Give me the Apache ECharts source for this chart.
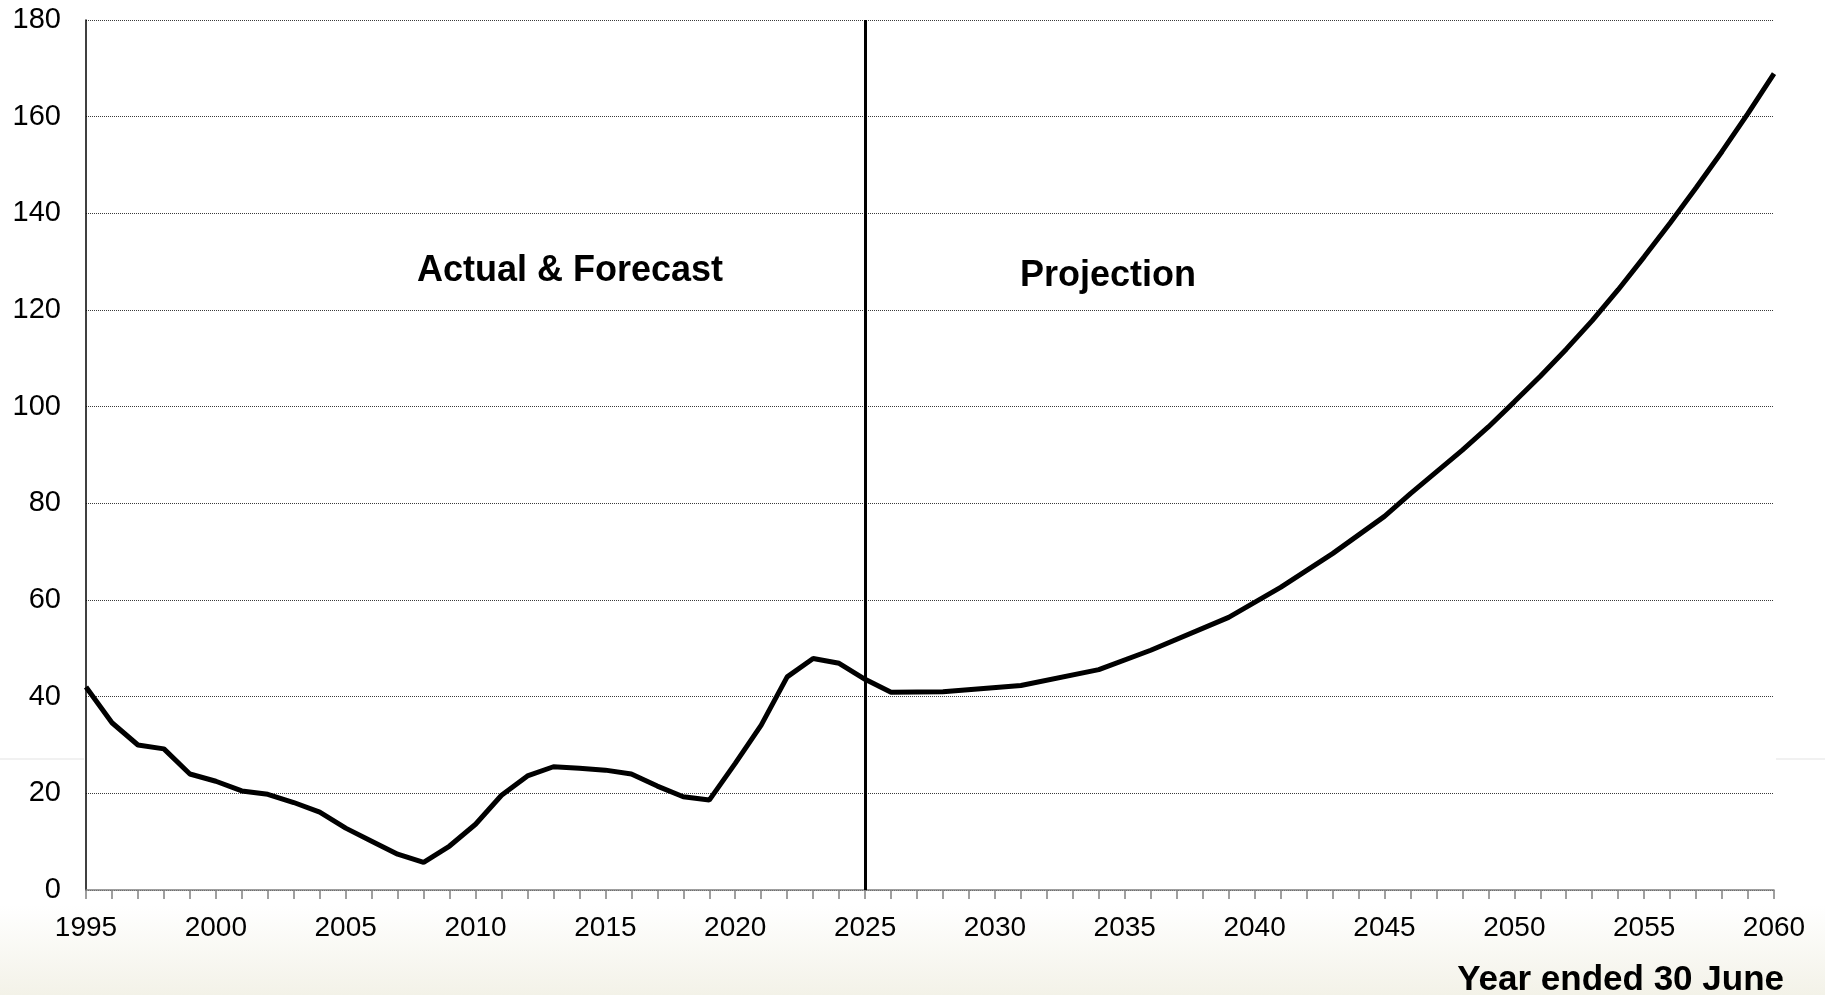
<!DOCTYPE html>
<html>
<head>
<meta charset="utf-8">
<title>Year ended 30 June</title>
<script src="https://cdn.jsdelivr.net/npm/echarts@6/dist/echarts.min.js"></script>
<style>
  html, body { margin: 0; padding: 0; background: #fff; }
  #line-chart { width: 1825px; height: 995px; }
</style>
</head>
<body>
<div id="line-chart"></div>
<script>
// actual & forecast, one point a year
const yearsActual = [1995, 1996, 1997, 1998, 1999, 2000, 2001, 2002, 2003, 2004, 2005, 2006, 2007, 2008, 2009, 2010,
  2011, 2012, 2013, 2014, 2015, 2016, 2017, 2018, 2019, 2020, 2021, 2022, 2023, 2024, 2025, 2026]
const valuesActual = [42.0, 34.6, 30.0, 29.2, 24.0, 22.5, 20.5, 19.8, 18.1, 16.1, 12.8, 10.1, 7.4, 5.7, 9.1, 13.6,
  19.6, 23.6, 25.5, 25.2, 24.8, 24.0, 21.5, 19.3, 18.6, 26.2, 34.1, 44.1, 47.9, 46.9, 43.6, 40.9]

// projection (points where the line bends)
const yearsProjection = [2028, 2031, 2034, 2036, 2039, 2041, 2043, 2045, 2046, 2047, 2048, 2049, 2050,
  2051, 2052, 2053, 2054, 2055, 2056, 2057, 2058, 2059, 2060]
const valuesProjection = [41.0, 42.3, 45.6, 49.6, 56.4, 62.6, 69.6, 77.3, 82.0, 86.5, 91.0, 95.8, 101.0,
  106.3, 111.9, 117.8, 124.2, 131.0, 138.0, 145.3, 152.8, 160.7, 168.9]

const splitYear = 2025
const yTicks = [0, 20, 40, 60, 80, 100, 120, 140, 160, 180]
const xTicks = [1995, 2000, 2005, 2010, 2015, 2020, 2025, 2030, 2035, 2040, 2045, 2050, 2055, 2060]

const font = "'Liberation Sans', Arial, Helvetica, sans-serif"

const initChart = () => {
  let element = document.getElementById('line-chart')
  let myChart = echarts.init(element, null, { renderer: 'canvas' })

  let seriesData = yearsActual.map((y, i) => [y, valuesActual[i]])
    .concat(yearsProjection.map((y, i) => [y, valuesProjection[i]]))

  let option = {
    backgroundColor: '#ffffff',
    animation: false,
    grid: {
      left: 86,
      right: 51,
      top: 20,
      bottom: 105,
      containLabel: false
    },
    xAxis: {
      type: 'value',
      min: xTicks[0],
      max: xTicks[xTicks.length - 1],
      interval: 5,
      axisLine: { show: true, lineStyle: { color: '#808080', width: 1.5 } },
      axisTick: { show: true, length: 9, lineStyle: { color: '#808080', width: 1.5 } },
      minorTick: { show: true, splitNumber: 5, length: 9, lineStyle: { color: '#808080', width: 1.5 } },
      axisLabel: {
        color: '#000',
        fontSize: 28,
        fontFamily: font,
        margin: 24,
        formatter: (v) => String(v)
      },
      splitLine: { show: false }
    },
    yAxis: {
      type: 'value',
      min: yTicks[0],
      max: yTicks[yTicks.length - 1],
      interval: 20,
      axisLine: { show: true, lineStyle: { color: '#000', width: 1.5 } },
      axisTick: { show: false },
      axisLabel: {
        color: '#000',
        fontSize: 29,
        fontFamily: font,
        margin: 25
      },
      splitLine: {
        show: true,
        lineStyle: { color: '#3a3a3a', width: 1, type: [1, 1] }
      }
    },
    graphic: [
      {
        type: 'rect',
        z: -10,
        shape: { x: 0, y: 905, width: 1825, height: 90 },
        style: {
          fill: new echarts.graphic.LinearGradient(0, 0, 0, 1, [
            { offset: 0, color: '#ffffff' },
            { offset: 1, color: '#f3f2e8' }
          ])
        },
        silent: true
      },
      {
        type: 'line', z: -10, silent: true,
        shape: { x1: 0, y1: 759, x2: 84, y2: 759 },
        style: { stroke: '#ececec', lineWidth: 1.5 }
      },
      {
        type: 'line', z: -10, silent: true,
        shape: { x1: 1776, y1: 759, x2: 1825, y2: 759 },
        style: { stroke: '#ececec', lineWidth: 1.5 }
      },
      {
        type: 'text',
        left: 417,
        top: 253,
        style: { text: 'Actual & Forecast', fill: '#000', font: 'bold 36px ' + font }
      },
      {
        type: 'text',
        left: 1020,
        top: 258,
        style: { text: 'Projection', fill: '#000', font: 'bold 36px ' + font }
      },
      {
        type: 'text',
        right: 41,
        top: 963,
        style: { text: 'Year ended 30 June', fill: '#000', font: 'bold 35px ' + font }
      }
    ],
    series: [
      {
        name: 'Projection',
        type: 'line',
        showSymbol: false,
        symbol: 'none',
        data: seriesData,
        lineStyle: { color: '#000', width: 5 },
        z: 5,
        markLine: {
          silent: true,
          symbol: 'none',
          label: { show: false },
          lineStyle: { color: '#000', width: 3, type: 'solid' },
          data: [{ xAxis: splitYear }]
        }
      }
    ]
  }
  option && myChart.setOption(option)
}

initChart()
</script>
</body>
</html>
